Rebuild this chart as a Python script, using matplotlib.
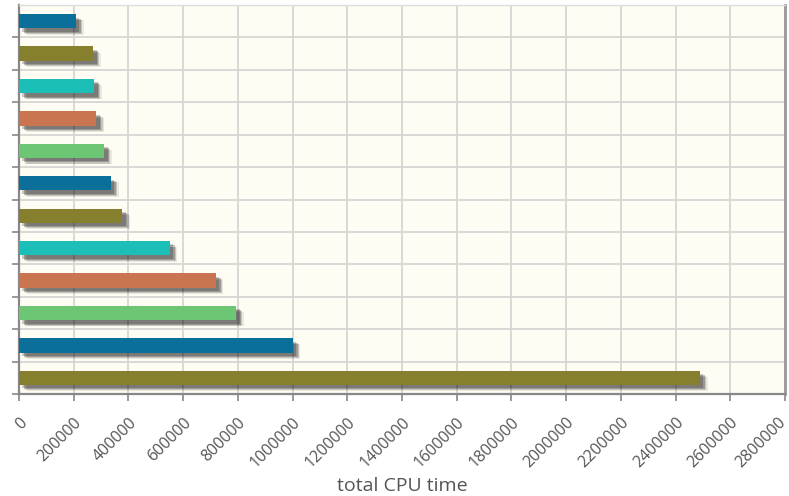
import matplotlib
matplotlib.use("Agg")
import matplotlib.pyplot as plt
import matplotlib.patheffects as pe

categories = ["p1", "p2", "p3", "p4", "p5", "p6", "p7", "p8", "p9", "p10", "p11", "p12"]
values = [208000, 271000, 275000, 283000, 311000, 336000, 378000, 551000, 719000, 794000, 1001000, 2489000]
colors = ["#0b6f9a", "#857f2e", "#1cbfb7", "#c9754f", "#6dc673", "#0b6f9a",
          "#857f2e", "#1cbfb7", "#c9754f", "#6dc673", "#0b6f9a", "#857f2e"]
xticks = list(range(0, 2800001, 200000))
xlabel = "total CPU time"

plt.rcParams['font.family'] = ['Open Sans', 'DejaVu Sans']

fig = plt.figure(figsize=(7.89, 4.96), dpi=100)
ax = fig.add_axes([19/789, 1-394/496, (785-19)/789, (394-5)/496])
ax.set_facecolor("#fffcf4")

n = len(values)
ypos = list(range(n))
bars = ax.barh(ypos, values, height=0.44, color=colors, zorder=3)
for b in bars:
    b.set_path_effects([
        pe.SimplePatchShadow(offset=(5.5, -4.5), shadow_rgbFace="#000000", alpha=0.08),
        pe.SimplePatchShadow(offset=(4.5, -4.0), shadow_rgbFace="#000000", alpha=0.15),
        pe.SimplePatchShadow(offset=(3.5, -3.2), shadow_rgbFace="#000000", alpha=0.22),
        pe.SimplePatchShadow(offset=(2.5, -2.5), shadow_rgbFace="#000000", alpha=0.2),
        pe.Normal()])

ax.set_ylim(n - 0.5, -0.5)
ax.set_xlim(0, 2800000)
ax.set_yticks([i + 0.5 for i in range(n)])
ax.set_yticklabels([])
ax.set_xticks(xticks)
tick_text = [str(t) for t in xticks]
lbl_kw = dict(rotation=45, ha='right', rotation_mode='anchor', fontsize=11.5, color="#555555")
# last label is drawn separately, nudged left so it stays inside the figure
ax.set_xticklabels(tick_text[:-1] + [""], **lbl_kw)
ax.annotate(tick_text[-1], xy=(xticks[-1], 0), xycoords=('data', 'axes fraction'),
            xytext=(-5, -15), textcoords='offset points', va='top', **lbl_kw)

ax.grid(True, color="#d6d6d6", linewidth=1.3, zorder=0)
ax.set_axisbelow(True)
ax.tick_params(axis='both', length=5, width=1.2, color="#888888", direction='out')
ax.tick_params(axis='x', pad=10)
for s in ["left", "bottom"]:
    ax.spines[s].set_color("#888888")
    ax.spines[s].set_linewidth(1.6)
ax.spines["right"].set_color("#999999")
ax.spines["right"].set_linewidth(2)
ax.spines["top"].set_color("#dddddd")
ax.spines["top"].set_linewidth(1)

ax.set_xlabel(xlabel, fontsize=14, color="#555555", labelpad=4)

fig.savefig("out.png", dpi=100)
